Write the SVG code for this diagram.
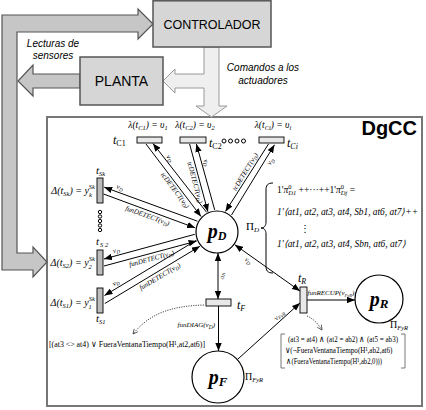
<svg xmlns="http://www.w3.org/2000/svg" width="426" height="410" viewBox="0 0 426 410">
<defs>
<style>
.box{fill:#d6d6d6;stroke:#555;stroke-width:1.5}
.big{fill:#c6c6c6;stroke:#555;stroke-width:1.2}
.cmd{fill:#efefef;stroke:#999;stroke-width:1}
.frame{fill:#fff;stroke:#777;stroke-width:2}
.place{fill:#fff;stroke:#000;stroke-width:1.2}
.tc{fill:#e8e8e8;stroke:#000;stroke-width:0.9}
.ts{fill:#bdbdbd;stroke:#000;stroke-width:0.9}
.arc{stroke:#000;stroke-width:1;fill:none;marker-end:url(#ah)}
.arc2{stroke:#000;stroke-width:1;fill:none;marker-end:url(#ah);marker-start:url(#ahs)}
.dot{stroke:#333;stroke-width:0.9;fill:none;stroke-dasharray:1.2 1.2;marker-end:url(#open)}
.sans{font-family:"Liberation Sans",Arial,sans-serif}
.ser{font-family:"Liberation Serif","Times New Roman",serif}
.it{font-style:italic}
.lbl{font-family:"Liberation Serif","Times New Roman",serif;font-style:italic;font-size:7px}
.oo{fill:none;stroke:#000;stroke-width:1}
</style>
<marker id="ah" viewBox="0 0 10 8" refX="10" refY="4" markerWidth="8" markerHeight="6.4" markerUnits="userSpaceOnUse" orient="auto"><path d="M0,0 L10,4 L0,8 z" fill="#000"/></marker>
<marker id="ahs" viewBox="0 0 10 8" refX="10" refY="4" markerWidth="8" markerHeight="6.4" markerUnits="userSpaceOnUse" orient="auto-start-reverse"><path d="M0,0 L10,4 L0,8 z" fill="#000"/></marker>
<marker id="open" viewBox="0 0 10 10" refX="9" refY="5" markerWidth="6" markerHeight="6" markerUnits="userSpaceOnUse" orient="auto"><path d="M1,1 L9,5 L1,9" fill="none" stroke="#333" stroke-width="1.2"/></marker>
</defs>

<g id="dgcc">
<rect class="frame" x="47" y="117" width="375" height="289"/>
<text class="sans" x="417" y="135" text-anchor="end" font-size="20" font-weight="bold">DgCC</text>
</g>

<g id="flows">
<path class="big" d="M153,24 L138,9 L138,15 L2,15 L2,270 L33,270 L33,277 L47,262 L33,247 L33,253 L17,253 L17,32 L138,32 L138,39 Z"/>
<path class="big" d="M80,74 L33,74 L33,65 L18,81 L33,96 L33,88 L80,88 Z"/>
<path class="cmd" d="M204,47 L219,47 L219,106 L227,106 L211.5,117 L196,106 L204,106 L204,88 L175,88 L175,93 L163,81 L175,69 L175,74 L204,74 Z"/>
<text class="sans it" font-size="10" x="53" y="46.5" text-anchor="middle">Lecturas de</text>
<text class="sans it" font-size="10" x="53" y="58.5" text-anchor="middle">sensores</text>
<text class="sans it" font-size="10" x="263" y="70.5" text-anchor="middle">Comandos a los</text>
<text class="sans it" font-size="10" x="263" y="83.5" text-anchor="middle">actuadores</text>
</g>

<g id="controlador">
<rect class="box" x="153" y="0.8" width="118" height="46.2"/>
<text class="sans" x="212" y="28.5" text-anchor="middle" font-size="12.5">CONTROLADOR</text>
</g>

<g id="planta">
<rect class="box" x="80" y="57" width="83" height="48"/>
<text class="sans" x="121.5" y="85.5" text-anchor="middle" font-size="14">PLANTA</text>
</g>

<g id="connectors">
<line class="arc" x1="146" y1="144" x2="201" y2="216.5"/>
<line class="arc" x1="206.6" y1="212.3" x2="153" y2="143.5"/>
<line class="arc" x1="189.6" y1="144" x2="207.9" y2="211.7"/>
<line class="arc" x1="214.7" y1="209.9" x2="196.4" y2="144"/>
<line class="arc" x1="268.5" y1="144" x2="225.5" y2="211.4"/>
<line class="arc" x1="231.5" y1="215" x2="274.5" y2="144.8"/>
<line class="arc" x1="197.5" y1="221.2" x2="104.2" y2="187.2"/>
<line class="arc" x1="103.5" y1="194" x2="195.1" y2="227.8"/>
<line class="arc" x1="194.8" y1="234.3" x2="104" y2="259"/>
<line class="arc" x1="104" y1="266" x2="196.6" y2="241.1"/>
<line class="arc" x1="196.3" y1="240.3" x2="104.5" y2="295.5"/>
<line class="arc" x1="104.8" y1="303.5" x2="199.9" y2="246.3"/>
<line class="arc2" x1="218" y1="253" x2="218" y2="299"/>
<line class="arc" x1="218.5" y1="306" x2="218.5" y2="351"/>
<line class="arc2" x1="234.9" y1="244.8" x2="300" y2="291"/>
<line class="arc" x1="237.3" y1="359.6" x2="300" y2="303"/>
<line class="arc" x1="307" y1="300" x2="355" y2="300"/>
<path class="dot" d="M204,305 C172,306 150,313 133,334"/>
<path class="dot" d="M307,316 C314,319 318,324 322,330"/>

<text class="lbl" transform="translate(168,159.5) rotate(53)" text-anchor="middle">v<tspan font-size="5" dy="1.5">D</tspan></text>
<text class="lbl" transform="translate(173.4,191.7) rotate(53)" text-anchor="middle">tcDETECT(v<tspan font-size="5" dy="1.5">D</tspan><tspan dy="-1.5">)</tspan></text>
<text class="lbl" transform="translate(204.3,163.2) rotate(74.9)" text-anchor="middle">v<tspan font-size="5" dy="1.5">D</tspan></text>
<text class="lbl" transform="translate(192.9,183) rotate(74.9)" text-anchor="middle">tcDETECT(v<tspan font-size="5" dy="1.5">D</tspan><tspan dy="-1.5">)</tspan></text>
<text class="lbl" transform="translate(247.1,173) rotate(-58.5)" text-anchor="middle">tcDETECT(v<tspan font-size="5" dy="1.5">D</tspan><tspan dy="-1.5">)</tspan></text>
<text class="lbl" transform="translate(272.3,162.7) rotate(-58.5)" text-anchor="middle">v<tspan font-size="5" dy="1.5">D</tspan></text>
<text class="lbl" transform="translate(119.2,189.5) rotate(20)" text-anchor="middle">v<tspan font-size="5" dy="1.5">D</tspan></text>
<text class="lbl" transform="translate(146.7,217.9) rotate(20)" text-anchor="middle">funDETECT(v<tspan font-size="5" dy="1.5">D</tspan><tspan dy="-1.5">)</tspan></text>
<text class="lbl" transform="translate(116.8,252.4) rotate(-15)" text-anchor="middle">v<tspan font-size="5" dy="1.5">D</tspan></text>
<text class="lbl" transform="translate(152.2,260.8) rotate(-15)" text-anchor="middle">funDETECT(v<tspan font-size="5" dy="1.5">D</tspan><tspan dy="-1.5">)</tspan></text>
<text class="lbl" transform="translate(116.8,284.6) rotate(-31)" text-anchor="middle">v<tspan font-size="5" dy="1.5">D</tspan></text>
<text class="lbl" transform="translate(161,278.4) rotate(-31)" text-anchor="middle">funDETECT(v<tspan font-size="5" dy="1.5">D</tspan><tspan dy="-1.5">)</tspan></text>
<text class="lbl" transform="translate(222,276) rotate(90)" text-anchor="middle">v<tspan font-size="5" dy="1.5">D</tspan></text>
<text class="lbl" transform="translate(246.9,262.5) rotate(35.4)" text-anchor="middle">v<tspan font-size="5" dy="1.5">D</tspan></text>
<text class="lbl" transform="translate(280.7,317) rotate(-42)" text-anchor="middle">v<tspan font-size="5" dy="1.5">FyR</tspan></text>
<text class="lbl" x="215" y="327" text-anchor="end" font-size="7.5">funDIAG(v<tspan font-size="5.5" dy="1.5">D</tspan><tspan dy="-1.5">)</tspan></text>
<text class="lbl" x="331" y="295" text-anchor="middle" font-size="6.5">funRECUP(v<tspan font-size="4.5" dy="1.5">FyR</tspan><tspan dy="-1.5">)</tspan></text>
</g>

<g id="tC1">
<rect class="tc" x="137" y="137" width="25" height="6"/>
<text class="ser it" x="148" y="128" text-anchor="middle" font-size="9.5">λ(t<tspan font-size="6.5" dy="2">C1</tspan><tspan dy="-2">) = υ</tspan><tspan font-size="6.5" dy="2">1</tspan></text>
<text class="ser it" x="113" y="144" font-size="12">t<tspan font-size="8" dy="2" font-style="normal">C1</tspan></text>
</g>
<g id="tC2">
<rect class="tc" x="180" y="137" width="26" height="6"/>
<text class="ser it" x="195" y="128" text-anchor="middle" font-size="9.5">λ(t<tspan font-size="6.5" dy="2">C2</tspan><tspan dy="-2">) = υ</tspan><tspan font-size="6.5" dy="2">2</tspan></text>
<text class="ser it" x="209" y="147" font-size="12">t<tspan font-size="8" dy="2" font-style="normal">C2</tspan></text>
</g>
<g id="dotsC">
<circle class="oo" cx="224" cy="141" r="2"/>
<circle class="oo" cx="230.5" cy="141" r="2"/>
<circle class="oo" cx="237" cy="141" r="2"/>
<circle class="oo" cx="243.5" cy="141" r="2"/>
</g>
<g id="tCi">
<rect class="tc" x="259" y="137" width="25" height="6"/>
<text class="ser it" x="273" y="128" text-anchor="middle" font-size="9.5">λ(t<tspan font-size="6.5" dy="2">Ci</tspan><tspan dy="-2">) = υ</tspan><tspan font-size="6.5" dy="2">i</tspan></text>
<text class="ser it" x="287" y="147" font-size="12">t<tspan font-size="8" dy="2">Ci</tspan></text>
</g>

<g id="tSk">
<rect class="ts" x="97" y="178" width="6" height="25"/>
<text class="ser it" x="96" y="174" font-size="11">t<tspan font-size="6.5" dy="1.5">Sk</tspan></text>
<text class="ser it" x="95" y="194" text-anchor="end" font-size="10">Δ(t<tspan font-size="6.5" dy="2">Sk</tspan><tspan dy="-2">) = y</tspan><tspan font-size="6.5" dy="2.5">k</tspan><tspan font-size="6.5" dx="-3" dy="-8">Sk</tspan></text>
</g>
<g id="dotsS">
<circle class="oo" cx="100" cy="212" r="1.7"/>
<circle class="oo" cx="100" cy="216.5" r="1.7"/>
<circle class="oo" cx="100" cy="221" r="1.7"/>
<circle class="oo" cx="100" cy="225.5" r="1.7"/>
<circle class="oo" cx="100" cy="230" r="1.7"/>
</g>
<g id="tS2">
<rect class="ts" x="97" y="250" width="6" height="25"/>
<text class="ser it" x="96" y="245" font-size="11">t<tspan font-size="6.5" dy="1.5" dx="1">S 2</tspan></text>
<text class="ser it" x="95" y="266" text-anchor="end" font-size="10">Δ(t<tspan font-size="6.5" dy="2">S2</tspan><tspan dy="-2">) = y</tspan><tspan font-size="6.5" dy="2.5">2</tspan><tspan font-size="6.5" dx="-3" dy="-8">Sk</tspan></text>
</g>
<g id="tS1">
<rect class="ts" x="97" y="288" width="6" height="25"/>
<text class="ser it" x="96" y="322" font-size="11">t<tspan font-size="6.5" dy="1.5">S1</tspan></text>
<text class="ser it" x="95" y="306" text-anchor="end" font-size="10">Δ(t<tspan font-size="6.5" dy="2">S1</tspan><tspan dy="-2">) = y</tspan><tspan font-size="6.5" dy="2.5">1</tspan><tspan font-size="6.5" dx="-3" dy="-8">Sk</tspan></text>
</g>

<g id="pD">
<circle class="place" cx="217" cy="232" r="21"/>
<text class="ser it" x="217" y="238" text-anchor="middle" font-size="20" font-weight="bold">p<tspan font-size="12" dy="2">D</tspan></text>
<text class="ser" x="246" y="230" font-size="11">Π<tspan font-size="7" dy="2" font-style="italic">D</tspan></text>
<path d="M273,183 C267,183 266,186 266,190 L266,222 C266,226 264,228 261,228 C264,228 266,230 266,234 L266,266 C266,270 267,273 273,273" fill="none" stroke="#000" stroke-width="1"/>
<text class="ser" x="277" y="193" font-size="9.5">1'<tspan font-style="italic">π</tspan><tspan font-size="6.5" dy="-4">0</tspan><tspan font-size="6.5" dx="-3.2" dy="6" font-style="italic">D1</tspan><tspan dy="-2"> ++···++1'</tspan><tspan font-style="italic">π</tspan><tspan font-size="6.5" dy="-4">0</tspan><tspan font-size="6.5" dx="-3.2" dy="6" font-style="italic">Dj</tspan><tspan dy="-2"> =</tspan></text>
<text class="ser it" x="277" y="215" font-size="9.5" textLength="141" lengthAdjust="spacingAndGlyphs">1'⟨at1, at2, at3, at4, Sb1, at6, at7⟩++</text>
<text class="ser" x="300" y="232" font-size="10">⋮</text>
<text class="ser it" x="277" y="247" font-size="9.5" textLength="129" lengthAdjust="spacingAndGlyphs">1'⟨at1, at2, at3, at4, Sbn, at6, at7⟩</text>
</g>

<g id="tF">
<rect class="tc" x="206" y="299" width="25" height="7"/>
<text class="ser it" x="237" y="309" font-size="12">t<tspan font-size="8" dy="2">F</tspan></text>
<text class="ser" x="49" y="347" font-size="9" textLength="156" lengthAdjust="spacingAndGlyphs">[(at3 &lt;&gt; at4) ∨ FueraVentanaTiempo(H¹,at2,at6)]</text>
</g>

<g id="pF">
<circle class="place" cx="218" cy="377" r="26"/>
<text class="ser it" x="218" y="384" text-anchor="middle" font-size="20" font-weight="bold">p<tspan font-size="13" dy="2">F</tspan></text>
<text class="ser" x="245" y="380" font-size="10">Π<tspan font-size="6.5" dy="2" font-style="italic">FyR</tspan></text>
</g>

<g id="tR">
<rect class="tc" x="300" y="287" width="7" height="26"/>
<text class="ser it" x="298" y="282" font-size="12">t<tspan font-size="8" dy="2">R</tspan></text>
<path d="M285,334 L281,334 L281,368 L285,368 M401,334 L405,334 L405,368 L401,368" fill="none" stroke="#555" stroke-width="0.8"/>
<text class="ser" x="288" y="342" font-size="8.5" textLength="110" lengthAdjust="spacingAndGlyphs">(at3 = at4) ∧ (at2 = ab2) ∧ (at5 = ab3)</text>
<text class="ser" x="284.5" y="353" font-size="8.5" textLength="108" lengthAdjust="spacingAndGlyphs">∨(¬FueraVentanaTiempo(H¹,ab2,at6)</text>
<text class="ser" x="286" y="364" font-size="8.5" textLength="96" lengthAdjust="spacingAndGlyphs">∧(FueraVentanaTiempo(H¹,ab2,0)))</text>
</g>

<g id="pR">
<circle class="place" cx="379" cy="299" r="24"/>
<text class="ser it" x="379" y="306" text-anchor="middle" font-size="20" font-weight="bold">p<tspan font-size="13" dy="2">R</tspan></text>
<text class="ser" x="390" y="328" font-size="10">Π<tspan font-size="6.5" dy="2" font-style="italic">FyR</tspan></text>
</g>
</svg>
